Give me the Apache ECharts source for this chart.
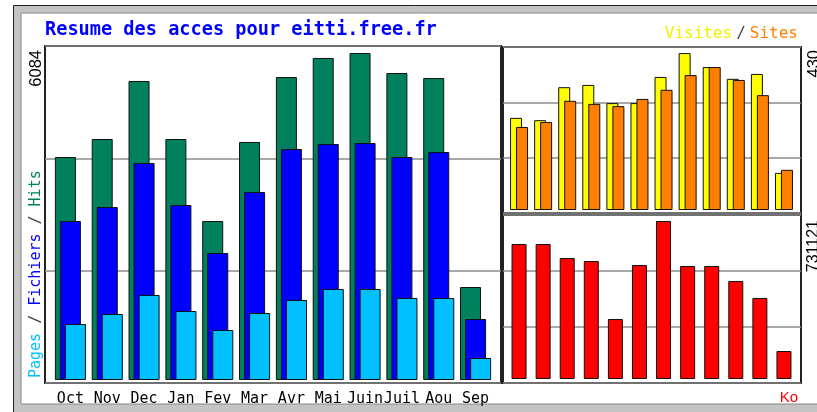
<!DOCTYPE html>
<html>
<head>
<meta charset="utf-8">
<script src="https://cdn.jsdelivr.net/npm/echarts@6/dist/echarts.min.js"></script>
<style>
  html, body { margin: 0; padding: 0; background: #fff; }
  #chart { width: 817px; height: 412px; }
</style>
</head>
<body>
<div id="chart"></div>
<script>
// donnees
const months = ['Oct', 'Nov', 'Dec', 'Jan', 'Fev', 'Mar', 'Avr', 'Mai', 'Juin', 'Juil', 'Aou', 'Sep'];
const hits = [4062, 4390, 5447, 4390, 2896, 4335, 5519, 5866, 5957, 5592, 5501, 1694];
const files = [2896, 3151, 3953, 3188, 2313, 3425, 4208, 4299, 4317, 4062, 4153, 1111];
const pages = [1020, 1202, 1548, 1257, 911, 1220, 1457, 1658, 1658, 1494, 1494, 401];
const visits = [243, 237, 324, 330, 282, 282, 351, 414, 377, 346, 359, 98];
const sites = [219, 232, 288, 280, 274, 293, 317, 356, 377, 343, 303, 106];
const kbytes = [601800, 601800, 539400, 526000, 267500, 508200, 704400, 503800, 503800, 436900, 361100, 124800];
const maxHits = 6084;
const maxVisits = 430;
const maxKbytes = 731121;

const chart = echarts.init(document.getElementById('chart'), null, { renderer: 'canvas' });

const mono = '"DejaVu Sans Mono", monospace';
const sans = '"Liberation Sans", Arial, sans-serif';
const barBorder = { borderColor: '#111', borderWidth: 1 };

// cadre + lignes de grille (sans series)
const frameGrid = (g) => ({
  gridIndex: g, type: 'value', min: 0, max: 1, show: false
});
const frameY = (g, max) => ({
  gridIndex: g, type: 'value', min: 0, max: max, interval: max / 3,
  axisLine: { show: false }, axisTick: { show: false }, axisLabel: { show: false },
  splitLine: { show: true, lineStyle: { color: '#8c8c8c', width: 1.5 } }
});

const option = {
  animation: false,
  backgroundColor: '#fff',
  grid: [
    { left: 45, top: 46, width: 456, height: 337, show: true, borderColor: '#222', borderWidth: 2 },
    { left: 52, top: 46, width: 442, height: 334 },
    { left: 503, top: 47, width: 298, height: 166, show: true, borderColor: '#222', borderWidth: 2 },
    { left: 507, top: 47, width: 289, height: 163 },
    { left: 503, top: 215, width: 298, height: 168, show: true, borderColor: '#222', borderWidth: 2 },
    { left: 507, top: 215, width: 289, height: 164 }
  ],
  xAxis: [
    frameGrid(0),
    {
      gridIndex: 1, type: 'category', data: months,
      axisLine: { show: false }, axisTick: { show: false },
      axisLabel: { interval: 0, margin: 12, color: '#000', fontFamily: mono, fontSize: 15 }
    },
    frameGrid(2),
    { gridIndex: 3, type: 'category', data: months, show: false },
    frameGrid(4),
    { gridIndex: 5, type: 'category', data: months, show: false }
  ],
  yAxis: [
    frameY(0, maxHits),
    { gridIndex: 1, type: 'value', min: 0, max: maxHits, show: false },
    frameY(2, maxVisits),
    { gridIndex: 3, type: 'value', min: 0, max: maxVisits, show: false },
    frameY(4, maxKbytes),
    { gridIndex: 5, type: 'value', min: 0, max: maxKbytes, show: false }
  ],
  series: [
    {
      name: 'Hits', type: 'bar', xAxisIndex: 1, yAxisIndex: 1, data: hits,
      barWidth: 21, barGap: '-76%', itemStyle: Object.assign({ color: '#00805c' }, barBorder)
    },
    {
      name: 'Fichiers', type: 'bar', xAxisIndex: 1, yAxisIndex: 1, data: files,
      barWidth: 21, barGap: '-76%', itemStyle: Object.assign({ color: '#0000ff' }, barBorder)
    },
    {
      name: 'Pages', type: 'bar', xAxisIndex: 1, yAxisIndex: 1, data: pages,
      barWidth: 21, barGap: '-76%', itemStyle: Object.assign({ color: '#00c0ff' }, barBorder)
    },
    {
      name: 'Visites', type: 'bar', xAxisIndex: 3, yAxisIndex: 3, data: visits,
      barWidth: 12, barGap: '-50%', itemStyle: Object.assign({ color: '#ffff00' }, barBorder)
    },
    {
      name: 'Sites', type: 'bar', xAxisIndex: 3, yAxisIndex: 3, data: sites,
      barWidth: 12, barGap: '-50%', itemStyle: Object.assign({ color: '#ff8000' }, barBorder)
    },
    {
      name: 'Ko', type: 'bar', xAxisIndex: 5, yAxisIndex: 5, data: kbytes,
      barWidth: 15, itemStyle: Object.assign({ color: '#ff0000' }, barBorder)
    }
  ],
  graphic: [
    // bordure grise autour de l'image
    { type: 'rect', z: -10, shape: { x: 13.5, y: 5.5, width: 900, height: 500 },
      style: { fill: '#c4c4c4', stroke: '#222', lineWidth: 1 } },
    { type: 'rect', z: -9, shape: { x: 21, y: 13, width: 900, height: 391 },
      style: { fill: '#fff', stroke: '#888', lineWidth: 1 } },
    // titre
    { type: 'text', z: 50, x: 45, y: 30,
      style: { text: 'Resume des acces pour eitti.free.fr', fill: '#0000ff',
        font: 'bold 18.6px ' + mono, textAlign: 'left', textVerticalAlign: 'middle' } },
    // legende haut droite
    { type: 'text', z: 50, x: 798, y: 34,
      style: {
        text: '{v|Visites}{s|/}{o|Sites}', textAlign: 'right', textVerticalAlign: 'middle',
        font: '16px ' + mono,
        rich: {
          v: { fill: '#f2f200', font: '16px ' + mono, textShadowColor: '#888', textShadowOffsetX: 1, textShadowOffsetY: 1 },
          s: { fill: '#444', font: '16px ' + mono, padding: [0, 4] },
          o: { fill: '#ff8000', font: '16px ' + mono, textShadowColor: '#aaa', textShadowOffsetX: 1, textShadowOffsetY: 1 }
        }
      } },
    // legende verticale gauche
    { type: 'text', z: 50, x: 36, y: 378, rotation: Math.PI / 2,
      style: {
        text: '{p|Pages} {s|/} {f|Fichiers} {s|/} {h|Hits}', textAlign: 'left', textVerticalAlign: 'middle',
        font: '15px ' + mono,
        rich: {
          p: { fill: '#00c0ff', font: '15px ' + mono },
          s: { fill: '#444', font: '15px ' + mono },
          f: { fill: '#0000ff', font: '15px ' + mono },
          h: { fill: '#00805c', font: '15px ' + mono }
        }
      } },
    // valeurs max
    { type: 'text', z: 50, x: 36, y: 50, rotation: Math.PI / 2,
      style: { text: String(maxHits), fill: '#000', font: '16.5px ' + sans, textAlign: 'right', textVerticalAlign: 'middle' } },
    { type: 'text', z: 50, x: 814, y: 50, rotation: Math.PI / 2,
      style: { text: String(maxVisits), fill: '#000', font: '16.5px ' + sans, textAlign: 'right', textVerticalAlign: 'middle' } },
    { type: 'text', z: 50, x: 814, y: 220, rotation: Math.PI / 2,
      style: { text: String(maxKbytes), fill: '#000', font: '16px ' + sans, textAlign: 'right', textVerticalAlign: 'middle' } },
    { type: 'text', z: 50, x: 798, y: 398,
      style: { text: 'Ko', fill: '#ff0000', font: '15px ' + sans, textAlign: 'right', textVerticalAlign: 'middle' } }
  ]
};

chart.setOption(option);
</script>
</body>
</html>
